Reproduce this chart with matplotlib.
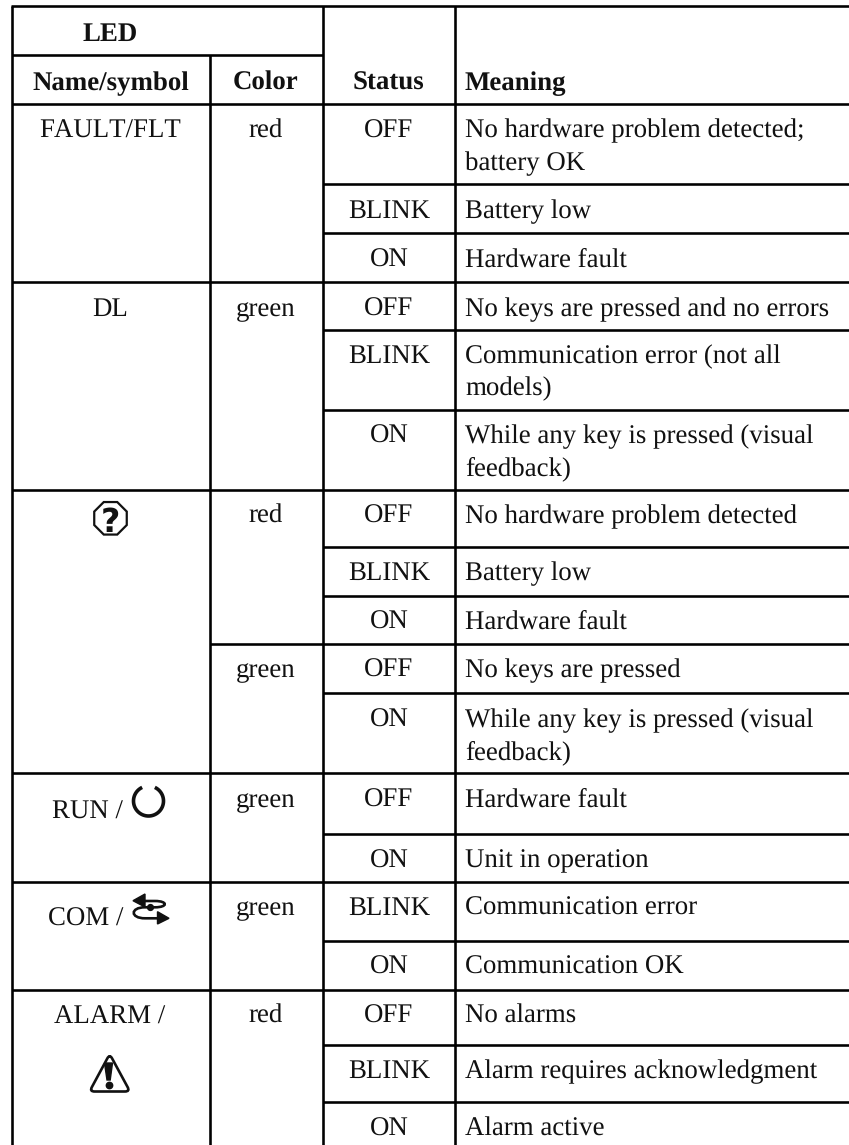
#!/usr/bin/python
import numpy as np
import matplotlib

matplotlib.use("Agg")
import matplotlib.pyplot as plt
from matplotlib.patches import PathPatch, Polygon
from matplotlib.path import Path

# Table content
led_names = ["FAULT/FLT", "DL", "RUN /", "COM /", "ALARM /"]
led_colors = ["red", "green", "red", "green", "green", "green", "red"]
statuses = [
    "OFF", "BLINK", "ON",
    "OFF", "BLINK", "ON",
    "OFF", "BLINK", "ON",
    "OFF", "ON",
    "OFF", "ON",
    "BLINK", "ON",
    "OFF", "BLINK", "ON",
]
meanings = [
    ["No hardware problem detected;", "battery OK"],
    ["Battery low"],
    ["Hardware fault"],
    ["No keys are pressed and no errors"],
    ["Communication error (not all", "models)"],
    ["While any key is pressed (visual", "feedback)"],
    ["No hardware problem detected"],
    ["Battery low"],
    ["Hardware fault"],
    ["No keys are pressed"],
    ["While any key is pressed (visual", "feedback)"],
    ["Hardware fault"],
    ["Unit in operation"],
    ["Communication error"],
    ["Communication OK"],
    ["No alarms"],
    ["Alarm requires acknowledgment"],
    ["Alarm active"],
]

# Layout, in pixels of the page
W, H = 849, 1145
COL_X = [12, 210, 322.7, 454.8]
RIGHT = 849
HEAD_Y = [6, 54.5, 103.5]
ROW_Y = [183.5, 232.5, 281.5, 330, 409.5, 489.5, 546.7, 596, 643.7, 692.7,
         773, 833.7, 881.7, 941, 989.7, 1045, 1101.7]
STATUS_BASE = [137.7, 217.7, 266.7, 315.7, 363, 443, 523, 580, 629, 677, 727,
               806.7, 867.7, 915, 974, 1023, 1078, 1136]
NAME_LINES = [281.5, 489.5, 773, 881.7, 989.7]
COLOR_LINES = [643.7]
NAME_BASE = [137.7, 315.7, 819, 926, 1024]
NAME_X = [110.5, 110.5, 123, 123, 110]
NAME_HA = ["center", "center", "right", "right", "center"]
COLOR_BASE = [137.7, 315.7, 523, 677, 806.7, 915, 1023]
STATUS_X = 388.8
MEANING_X = 465
LINE_STEP = 32
FS = 19.4
LW = 2.6 * 72 / 100
INK = "#111111"

plt.rcParams["font.family"] = ["Liberation Serif"]
plt.rcParams["text.hinting"] = "no_hinting"
plt.rcParams["text.kerning_factor"] = 6
fig = plt.figure(figsize=(W / 100, H / 100), dpi=100, facecolor="white")
ax = fig.add_axes([0, 0, 1, 1])
ax.set_xlim(0, W)
ax.set_ylim(H, 0)
ax.axis("off")


def hline(y, x0, x1=RIGHT):
    ax.plot([x0, x1], [y, y], color="black", lw=LW, solid_capstyle="butt")


def vline(x, y0=HEAD_Y[0], y1=H):
    ax.plot([x, x], [y0, y1], color="black", lw=LW, solid_capstyle="butt")


def put(x, y, s, ha="center", weight="normal", size=FS):
    ax.text(x, y, s, ha=ha, va="baseline", fontsize=size, fontweight=weight, color=INK)


def rounded_poly(points, r):
    # closed path with the corners cut by quadratic curves
    pts = np.array(points, dtype=float)
    verts, codes = [], []
    n = len(pts)
    for i in range(n):
        p, prev, nxt = pts[i], pts[i - 1], pts[(i + 1) % n]
        a = p + (prev - p) / np.linalg.norm(prev - p) * r
        b = p + (nxt - p) / np.linalg.norm(nxt - p) * r
        verts += [a, p, b]
        codes += [Path.MOVETO if i == 0 else Path.LINETO, Path.CURVE3, Path.CURVE3]
    verts.append(verts[0])
    codes.append(Path.CLOSEPOLY)
    return Path(verts, codes)


# Grid
hline(HEAD_Y[0], COL_X[0] - 1.3)
hline(HEAD_Y[1], COL_X[0], COL_X[2])
hline(HEAD_Y[2], COL_X[0])
for y in ROW_Y:
    hline(y, COL_X[2])
for y in NAME_LINES:
    hline(y, COL_X[0], COL_X[2])
for y in COLOR_LINES:
    hline(y, COL_X[1], COL_X[2])
vline(COL_X[0])
vline(COL_X[1], HEAD_Y[1])
vline(COL_X[2])
vline(COL_X[3])

# Header
put(110.5, 40.7, "LED", weight="bold")
put(110.5, 90, "Name/symbol", weight="bold")
put(266, 90, "Color", weight="bold")
put(STATUS_X, 90, "Status", weight="bold")
put(MEANING_X, 90, "Meaning", ha="left", weight="bold")

# Body
for name, x, y, ha in zip(led_names, NAME_X, NAME_BASE, NAME_HA):
    put(x, y, name, ha=ha)
for color, y in zip(led_colors, COLOR_BASE):
    put(266, y, color)
for status, lines, y in zip(statuses, meanings, STATUS_BASE):
    put(STATUS_X, y, status)
    for i, line in enumerate(lines):
        put(MEANING_X, y + i * LINE_STEP, line, ha="left")

# Octagon with question mark
ang = np.radians(np.arange(22.5, 360, 45))
ax.add_patch(Polygon(np.column_stack([110.5 + 17.6 * np.cos(ang), 518.3 + 17.6 * np.sin(ang)]),
                     closed=True, fill=False, ec=INK, lw=1.6))
ax.text(110.5, 531.5, "?", ha="center", va="baseline", fontsize=24, fontweight="bold",
        family="DejaVu Sans", color=INK)

# Power symbol
t = np.radians(np.linspace(-65, 245, 80))
ax.plot(148.5 + 15 * np.cos(t), 801 + 15 * np.sin(t), color=INK, lw=2.6, solid_capstyle="butt")

# Communication arrows
com_path = Path(
    [(145, 901), (155, 901), (168, 901), (168, 907.3), (155, 907.3), (145, 907.3),
     (130, 907.3), (130, 918.3), (145, 918.3), (158, 918.3)],
    [Path.MOVETO, Path.LINETO, Path.CURVE4, Path.CURVE4, Path.CURVE4, Path.LINETO,
     Path.CURVE4, Path.CURVE4, Path.CURVE4, Path.LINETO],
)
ax.add_patch(PathPatch(com_path, fill=False, ec=INK, lw=1.9))
ax.add_patch(Polygon([[133, 900.7], [145, 894], [145, 907]], closed=True, color=INK))
ax.add_patch(Polygon([[169, 918.3], [157.5, 911.7], [157.5, 924]], closed=True, color=INK))
ax.plot([150], [907.3], marker="o", ms=4.2, color=INK)

# Alarm triangle
ax.add_patch(PathPatch(rounded_poly([[109.7, 1054], [130, 1091.5], [89.5, 1091.5]], 5),
                       fill=False, ec=INK, lw=1.9))
ax.add_patch(Polygon([[104.5, 1063], [112.5, 1063], [110.2, 1080], [107, 1080]], closed=True,
                     color=INK))
ax.plot([108.7], [1085], marker="o", ms=4.6, color=INK)

fig.savefig("out.png", dpi=100)
